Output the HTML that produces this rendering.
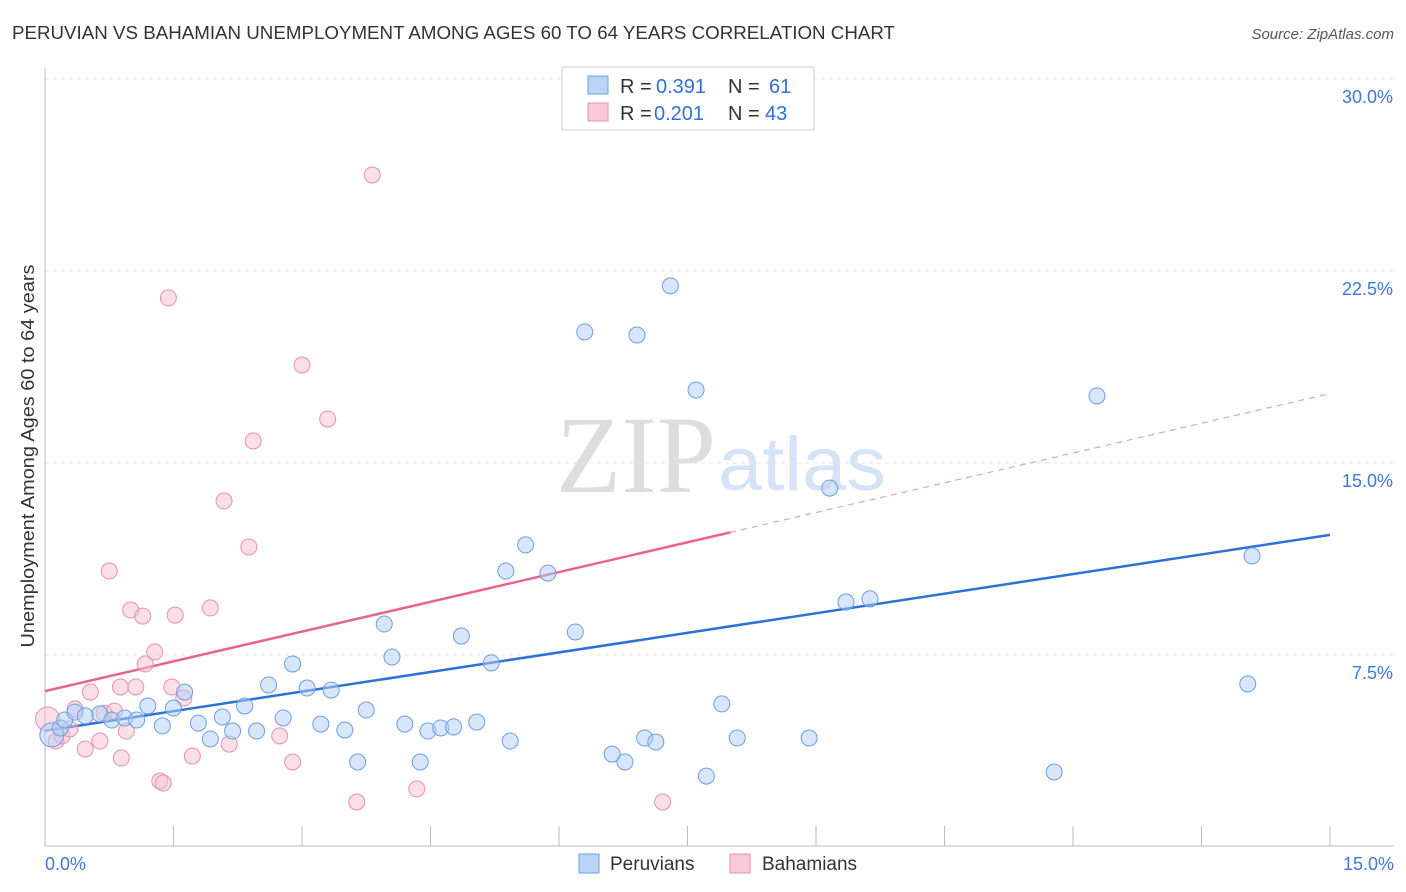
<!DOCTYPE html>
<html><head><meta charset="utf-8"><style>
body{margin:0;background:#fff;font-family:"Liberation Sans",sans-serif;}
#wrap{position:relative;width:1406px;height:892px;overflow:hidden;}
</style></head><body><div id="wrap">
<svg id="svg" width="1406" height="892" xmlns="http://www.w3.org/2000/svg">
<text x="12" y="39" font-size="18.5" fill="#333" textLength="883" lengthAdjust="spacingAndGlyphs">PERUVIAN VS BAHAMIAN UNEMPLOYMENT AMONG AGES 60 TO 64 YEARS CORRELATION CHART</text>
<text x="1394" y="39" font-size="15" fill="#555" font-style="italic" text-anchor="end">Source: ZipAtlas.com</text>
<text x="34" y="456" font-size="18" fill="#333" text-anchor="middle" textLength="383" lengthAdjust="spacingAndGlyphs" transform="rotate(-90 34 456)">Unemployment Among Ages 60 to 64 years</text>
<text x="716" y="492" font-size="110" fill="#ddd" text-anchor="end" font-family="Liberation Serif" textLength="160" lengthAdjust="spacingAndGlyphs">ZIP</text>
<text x="718" y="490" font-size="76" fill="#d4e3f5" textLength="168" lengthAdjust="spacingAndGlyphs">atlas</text>
<g id="grid"></g><g id="trend"></g><g id="pts"></g>
<g>
<rect x="562" y="67" width="252" height="63" fill="#fff" stroke="#ccc"/>
<rect x="588" y="76" width="20" height="18" fill="#b9d4f5" stroke="#6b9fe0"/>
<rect x="588" y="103" width="20" height="18" fill="#f9c9d8" stroke="#e890ac"/>
<text x="620" y="93" font-size="20" fill="#333">R =</text>
<text x="656" y="93" font-size="20" fill="#2f6fd8">0.391</text>
<text x="728" y="93" font-size="20" fill="#333">N =</text>
<text x="769" y="93" font-size="20" fill="#2f6fd8">61</text>
<text x="620" y="120" font-size="20" fill="#333">R =</text>
<text x="654" y="120" font-size="20" fill="#2f6fd8">0.201</text>
<text x="728" y="120" font-size="20" fill="#333">N =</text>
<text x="765" y="120" font-size="20" fill="#2f6fd8">43</text>
</g>
<g>
<rect x="579" y="854" width="20" height="19" fill="#b9d4f5" stroke="#6b9fe0"/>
<text x="610" y="870" font-size="19" fill="#333">Peruvians</text>
<rect x="730" y="854" width="20" height="19" fill="#f9c9d8" stroke="#e890ac"/>
<text x="762" y="870" font-size="19" fill="#333">Bahamians</text>
</g>
</svg>
<script>
const xTicks=[0,1.5,3,4.5,6,7.5,9,10.5,12,13.5,15];
const yTicks=[7.5,15,22.5,30];
const yTickLabels=["7.5%","15.0%","22.5%","30.0%"];
const xEndLabels=["0.0%","15.0%"];
const peruX=[0.08,0.18,0.23,0.35,0.47,0.64,0.78,0.93,1.07,1.2,1.37,1.5,1.63,1.79,1.93,2.07,2.19,2.33,2.47,2.61,2.78,2.89,3.06,3.22,3.34,3.5,3.65,3.75,3.96,4.05,4.2,4.38,4.47,4.62,4.77,4.86,5.04,5.21,5.38,5.43,5.61,5.87,6.19,6.3,6.62,6.77,6.91,7.0,7.13,7.3,7.6,7.72,7.9,8.08,8.92,9.16,9.35,9.63,11.78,12.28,14.04,14.09];
const peruY=[4.38,4.65,4.96,5.27,5.12,5.2,4.96,5.04,4.96,5.51,4.73,5.43,6.05,4.84,4.22,5.08,4.53,5.51,4.53,6.33,5.04,7.15,6.21,4.8,6.13,4.57,3.32,5.35,8.71,7.42,4.8,3.32,4.53,4.65,4.69,8.24,4.88,7.19,10.78,4.14,11.8,10.7,8.4,20.12,3.63,3.32,20.0,4.26,4.1,21.92,17.85,2.77,5.59,4.26,4.26,14.02,9.57,9.69,2.93,17.62,6.37,11.37];
const bahaX=[0.03,0.13,0.2,0.29,0.35,0.47,0.53,0.64,0.69,0.75,0.81,0.88,0.89,0.95,1.0,1.06,1.14,1.17,1.28,1.34,1.38,1.44,1.48,1.52,1.62,1.72,1.93,2.09,2.15,2.38,2.43,2.74,2.89,3.0,3.3,3.64,3.82,4.34,7.21];
const bahaY=[5.0,4.14,4.34,4.61,5.39,3.83,6.05,4.14,5.23,10.78,5.31,6.25,3.48,4.53,9.26,6.25,9.02,7.15,7.62,2.58,2.5,21.45,6.25,9.06,5.82,3.55,9.34,13.52,4.02,11.72,15.86,4.34,3.32,18.83,16.72,1.76,26.25,2.27,1.76];
const bahaTrend=[6.09,0.775];
const bahaTrendSolidEnd=8.0;
const NS="http://www.w3.org/2000/svg";
const X0=45,X1=1330,Y0=847,Y30=79;
const xs=v=>X0+(X1-X0)*v/15, ys=v=>Y0-(Y0-Y30)*v/30;
function mk(tag,attrs,parent){const e=document.createElementNS(NS,tag);for(const k in attrs)e.setAttribute(k,attrs[k]);document.getElementById(parent).appendChild(e);return e;}
yTicks.forEach((t,i)=>{
 const l=mk('line',{x1:X0,x2:1394,y1:ys(t),y2:ys(t),stroke:'#e4e4e4','stroke-dasharray':'4,4'},'grid');
 
 
 const tx=mk('text',{x:1393,y:ys(t)+24,'font-size':18,fill:'#3b78d8','text-anchor':'end'},'grid');
 tx.textContent=yTickLabels[i];
 
 
});
let ax=mk('line',{x1:X0,x2:X0,y1:68,y2:846,stroke:'#bbb'},'grid');


ax=mk('line',{x1:X0,x2:1394,y1:846,y2:846,stroke:'#bbb'},'grid');


xTicks.forEach(t=>{
 const l=mk('line',{x1:xs(t),x2:xs(t),y1:826,y2:846,stroke:'#bbb'},'grid');
 
 
});
[[0,'start',45],[15,'end',1394]].forEach((a,i)=>{
 const tx=mk('text',{x:a[2],y:870,'font-size':18,fill:'#3b78d8','text-anchor':a[1]},'grid');
 tx.textContent=xEndLabels[i];
 
 
});
function fit(X,Y){const n=X.length;let mx=0,my=0;X.forEach((v,i)=>{mx+=v;my+=Y[i];});mx/=n;my/=n;let sxy=0,sxx=0;X.forEach((v,i)=>{sxy+=(v-mx)*(Y[i]-my);sxx+=(v-mx)**2;});const b=sxy/sxx;return [my-b*mx,b];}
const [pa,pb]=fit(peruX,peruY);
let tl=mk('line',{x1:xs(0),y1:ys(pa),x2:xs(15),y2:ys(pa+pb*15),stroke:'#2f6fd8','stroke-width':2.5},'trend');


const [ba,bb]=bahaTrend;
const xm=bahaTrendSolidEnd;
tl=mk('line',{x1:xs(0),y1:ys(ba),x2:xs(xm),y2:ys(ba+bb*xm),stroke:'#e8648f','stroke-width':2.5},'trend');


tl=mk('line',{x1:xs(xm),y1:ys(ba+bb*xm),x2:xs(15),y2:ys(ba+bb*15),stroke:'#e8a0b8','stroke-width':1.2,'stroke-dasharray':'6,5'},'trend');


bahaX.forEach((v,i)=>{
 const c=mk('circle',{cx:xs(v),cy:ys(bahaY[i]),r:i==0?12:8,fill:'rgba(248,190,210,0.5)',stroke:'#e890ac','stroke-width':1},'pts');
 
 
});
peruX.forEach((v,i)=>{
 const c=mk('circle',{cx:xs(v),cy:ys(peruY[i]),r:i==0?12:8,fill:'rgba(175,205,245,0.5)',stroke:'#6b9fe0','stroke-width':1},'pts');
 
 
});
</script>
</div></body></html>
